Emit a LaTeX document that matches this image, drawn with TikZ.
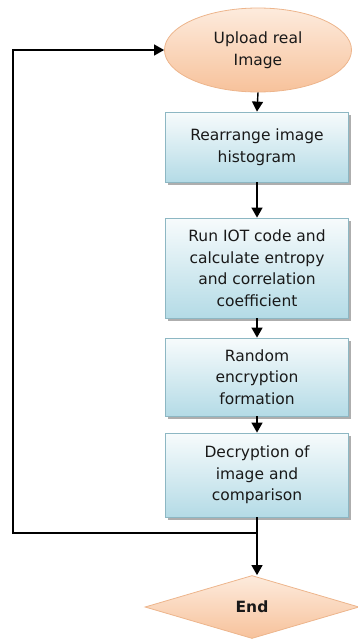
\documentclass[tikz,border=0pt]{standalone}
\usepackage{fontspec}
\setmainfont{DejaVu Sans}
\usetikzlibrary{shapes.geometric,arrows.meta,shadows}
\definecolor{peachtop}{HTML}{FDEBDD}
\definecolor{peachbot}{HTML}{F7C29B}
\definecolor{peachline}{HTML}{EDB58C}
\definecolor{bluetop}{HTML}{F7FBFC}
\definecolor{bluebot}{HTML}{B4DBE6}
\definecolor{blueline}{HTML}{8DB7C3}
\begin{document}
\begin{tikzpicture}[x=1pt,y=-1pt,
  every node/.style={font=\fontsize{15.5}{21.5}\selectfont, align=center, text=black!90},
  procbox/.style={rectangle, draw=blueline, line width=0.8pt, top color=bluetop, bottom color=bluebot,
    minimum width=183pt, inner sep=0pt,
    drop shadow={shadow xshift=2pt, shadow yshift=-2.5pt, fill=black!45, opacity=0.7}},
  startnode/.style={ellipse, draw=peachline, line width=0.8pt, top color=peachtop, bottom color=peachbot,
    minimum width=187pt, minimum height=84pt, inner sep=0pt},
  endnode/.style={diamond, draw=peachline, line width=0.8pt, top color=peachtop, bottom color=peachbot,
    minimum width=214pt, minimum height=63pt, inner sep=0pt, font=\fontsize{15.5}{21.5}\selectfont\bfseries},
  conn/.style={line width=1.4pt, draw=black},
  arr/.style={conn, -{Triangle[length=10pt,width=11pt]}}
]
\useasboundingbox (0,0) rectangle (358,640);

\node[startnode] (start) at (258,50) {Upload real\\Image};
\node[procbox, minimum height=70pt] (b1) at (257,147) {Rearrange image\\histogram};
\node[procbox, minimum height=100pt] (b2) at (257,268) {Run IOT code and\\calculate entropy\\and correlation\\coefficient};
\node[procbox, minimum height=78pt] (b3) at (257,377) {Random\\encryption\\formation};
\node[procbox, minimum height=84pt] (b4) at (257,475) {Decryption of\\image and\\comparison};
\node[endnode] (end) at (252,607) {End};

\coordinate (j) at (257,533);
\coordinate (jl) at (13,533);
\coordinate (tl) at (13,50);

\draw[arr] (start.south) -- (b1.north);
\draw[arr] (b1.south) -- (b2.north);
\draw[arr] (b2.south) -- (b3.north);
\draw[arr] (b3.south) -- (b4.north);
\draw[arr] (b4.south) -- (b4.south |- end.north);
\draw[arr] (j) -- (jl) -- (tl) -- (start.west);
\end{tikzpicture}
\end{document}
